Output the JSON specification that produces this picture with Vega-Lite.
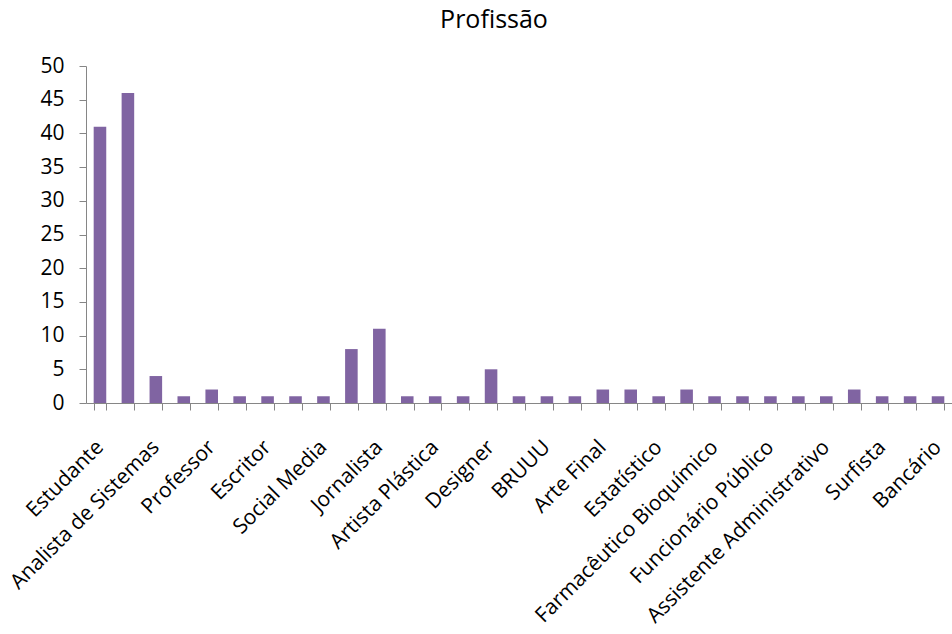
{
  "$schema": "https://vega.github.io/schema/vega-lite/v6.json",
  "width": 866,
  "height": 337,
  "autosize": {"type": "none"},
  "padding": {"left": 86, "top": 66, "right": 0, "bottom": 231},
  "background": "white",
  "title": {
    "text": "Profissão",
    "font": "Open Sans",
    "fontSize": 25,
    "fontWeight": "normal",
    "color": "#000000",
    "dx": -25,
    "offset": 22
  },
  "data": {
    "values": [
      {"ordem": 1, "categoria": "Estudante", "n": 41},
      {"ordem": 2, "categoria": "sem rótulo 2", "n": 46},
      {"ordem": 3, "categoria": "Analista de Sistemas", "n": 4},
      {"ordem": 4, "categoria": "sem rótulo 4", "n": 1},
      {"ordem": 5, "categoria": "Professor", "n": 2},
      {"ordem": 6, "categoria": "sem rótulo 6", "n": 1},
      {"ordem": 7, "categoria": "Escritor", "n": 1},
      {"ordem": 8, "categoria": "sem rótulo 8", "n": 1},
      {"ordem": 9, "categoria": "Social Media", "n": 1},
      {"ordem": 10, "categoria": "sem rótulo 10", "n": 8},
      {"ordem": 11, "categoria": "Jornalista", "n": 11},
      {"ordem": 12, "categoria": "sem rótulo 12", "n": 1},
      {"ordem": 13, "categoria": "Artista Plástica", "n": 1},
      {"ordem": 14, "categoria": "sem rótulo 14", "n": 1},
      {"ordem": 15, "categoria": "Designer", "n": 5},
      {"ordem": 16, "categoria": "sem rótulo 16", "n": 1},
      {"ordem": 17, "categoria": "BRUUU", "n": 1},
      {"ordem": 18, "categoria": "sem rótulo 18", "n": 1},
      {"ordem": 19, "categoria": "Arte Final", "n": 2},
      {"ordem": 20, "categoria": "sem rótulo 20", "n": 2},
      {"ordem": 21, "categoria": "Estatístico", "n": 1},
      {"ordem": 22, "categoria": "sem rótulo 22", "n": 2},
      {"ordem": 23, "categoria": "Farmacêutico Bioquímico", "n": 1},
      {"ordem": 24, "categoria": "sem rótulo 24", "n": 1},
      {"ordem": 25, "categoria": "Funcionário Público", "n": 1},
      {"ordem": 26, "categoria": "sem rótulo 26", "n": 1},
      {"ordem": 27, "categoria": "Assistente Administrativo", "n": 1},
      {"ordem": 28, "categoria": "sem rótulo 28", "n": 2},
      {"ordem": 29, "categoria": "Surfista", "n": 1},
      {"ordem": 30, "categoria": "sem rótulo 30", "n": 1},
      {"ordem": 31, "categoria": "Bancário", "n": 1}
    ]
  },
  "mark": {"type": "bar", "color": "#8064A2"},
  "encoding": {
    "x": {
      "field": "categoria",
      "type": "nominal",
      "sort": {"field": "ordem"},
      "scale": {"paddingInner": 0.55, "paddingOuter": 0.275},
      "axis": {
        "title": null,
        "labelAngle": -45,
        "labelExpr": "indexof(datum.label, 'sem rótulo') === 0 ? '' : datum.label",
        "labelOverlap": false,
        "labelLimit": 0,
        "labelFont": "Open Sans",
        "labelFontSize": 21,
        "labelColor": "#000000",
        "labelPadding": 26,
        "labelOffset": -8,
        "tickBand": "extent",
        "tickSize": 7,
        "tickColor": "#868686",
        "domainColor": "#868686"
      }
    },
    "y": {
      "field": "n",
      "type": "quantitative",
      "scale": {"domain": [0, 50], "nice": false},
      "axis": {
        "title": null,
        "values": [0, 5, 10, 15, 20, 25, 30, 35, 40, 45, 50],
        "grid": false,
        "labelFont": "Open Sans",
        "labelFontSize": 21,
        "labelColor": "#000000",
        "labelPadding": 15,
        "tickSize": 7,
        "tickColor": "#868686",
        "domainColor": "#868686"
      }
    }
  },
  "config": {"view": {"stroke": null}}
}
